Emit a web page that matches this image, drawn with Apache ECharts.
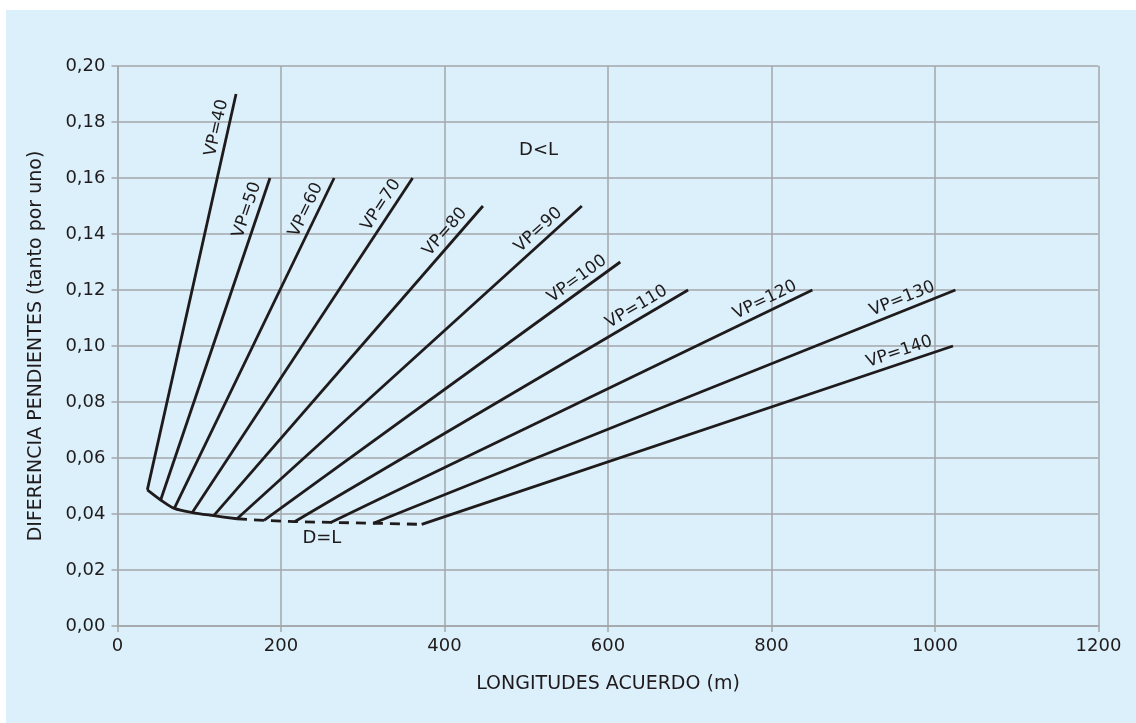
<!DOCTYPE html>
<html><head><meta charset="utf-8">
<script src="https://cdn.jsdelivr.net/npm/echarts@6/dist/echarts.min.js"></script>
<style>html,body{margin:0;padding:0;background:#ffffff}#c{width:1136px;height:723px}</style>
</head><body><div id="c"></div>
<script>
// ---- data ----
const vpNames = ['VP=40','VP=50','VP=60','VP=70','VP=80','VP=90','VP=100','VP=110','VP=120','VP=130','VP=140'];
const lowX  = [36.5, 52.8, 69.5, 91.5, 117.7, 146.2, 179.2, 217.1, 260.8, 312.9, 372.1];
const lowY  = [0.0486, 0.0450, 0.0420, 0.0405, 0.0394, 0.0383, 0.0377, 0.0373, 0.0370, 0.0367, 0.0363];
const highX = [145, 186.5, 265, 361, 447, 568, 615, 698, 850, 1025, 1022];
const highY = [0.19, 0.16, 0.16, 0.16, 0.15, 0.15, 0.13, 0.12, 0.12, 0.12, 0.10];
const labelY = [0.1770, 0.1473, 0.1468, 0.1481, 0.1380, 0.1384, 0.1206, 0.1104, 0.1127, 0.1130, 0.0940];
const solidUntil = 5; // D=L curve is solid up to VP=90, dashed after
const noteText = ['D<L', 'D=L'];
const noteX = [515, 250];
const noteY = [0.170, 0.0314];
const xTitle = 'LONGITUDES ACUERDO (m)';
const yTitle = 'DIFERENCIA PENDIENTES (tanto por uno)';

// ---- chart ----
const FONT = 'DejaVu Sans';
const INK = '#1f1b1c';
const GRIDC = '#a4a7aa';
const chart = echarts.init(document.getElementById('c'), null, {renderer: 'canvas'});

const series = vpNames.map((n, i) => ({
  id: 'vp' + i, type: 'line', name: n, symbol: 'none', silent: true,
  data: [[lowX[i], lowY[i]], [highX[i], highY[i]]],
  lineStyle: {color: INK, width: 2.8}, z: 3
}));
series.push({
  id: 'curveSolid', type: 'line', symbol: 'none', silent: true, smooth: 0.3,
  data: lowX.slice(0, solidUntil + 1).map((x, i) => [x, lowY[i]]),
  lineStyle: {color: INK, width: 2.8}, z: 3
});
series.push({
  id: 'curveDash', type: 'line', symbol: 'none', silent: true,
  data: lowX.slice(solidUntil).map((x, i) => [x, lowY[i + solidUntil]]),
  lineStyle: {color: INK, width: 2.8, type: [10, 7]}, z: 3
});
series.push({
  id: 'notes', type: 'scatter', silent: true, symbolSize: 1,
  itemStyle: {color: 'rgba(0,0,0,0)', opacity: 1},
  data: noteX.map((x, i) => [x, noteY[i]]),
  label: {show: true, position: 'inside', color: INK, fontFamily: FONT, fontSize: 18,
          textBorderWidth: 0, formatter: p => noteText[p.dataIndex]}
});

const option = {
  animation: false,
  backgroundColor: '#ffffff',
  graphic: [{type: 'rect', z: -10, silent: true, shape: {x: 6, y: 10, width: 1130, height: 713},
             style: {fill: '#dcf0fb'}}],
  grid: {left: 117.5, right: 37.5, top: 66, bottom: 97, containLabel: false},
  xAxis: {
    type: 'value', min: 0, max: 1200, interval: 200,
    name: xTitle, nameLocation: 'middle', nameGap: 49,
    nameTextStyle: {color: INK, fontFamily: FONT, fontSize: 19},
    axisLine: {show: true, lineStyle: {color: GRIDC, width: 1.5}},
    axisTick: {show: true, length: 6, lineStyle: {color: GRIDC, width: 1.5}},
    axisLabel: {color: INK, fontFamily: FONT, fontSize: 18, margin: 11,
                formatter: v => String(v)},
    splitLine: {show: true, lineStyle: {color: GRIDC, width: 1.5}}
  },
  yAxis: {
    type: 'value', min: 0, max: 0.2, interval: 0.02,
    name: yTitle, nameLocation: 'middle', nameGap: 72,
    nameTextStyle: {color: INK, fontFamily: FONT, fontSize: 19},
    axisLine: {show: true, lineStyle: {color: GRIDC, width: 1.5}},
    axisTick: {show: true, length: 6, lineStyle: {color: GRIDC, width: 1.5}},
    axisLabel: {color: INK, fontFamily: FONT, fontSize: 18, margin: 12,
                formatter: v => v.toFixed(2).replace('.', ',')},
    splitLine: {show: true, lineStyle: {color: GRIDC, width: 1.5}}
  },
  series: series
};
chart.setOption(option);

// VP labels placed along each line using the chart's own scales
const labelData = vpNames.map((n, i) => {
  const p0 = chart.convertToPixel({gridIndex: 0}, [lowX[i], lowY[i]]);
  const p1 = chart.convertToPixel({gridIndex: 0}, [highX[i], highY[i]]);
  const ang = Math.atan2(p0[1] - p1[1], p1[0] - p0[0]);
  const t = (labelY[i] - lowY[i]) / (highY[i] - lowY[i]);
  const ax = p0[0] + t * (p1[0] - p0[0]);
  const ay = p0[1] + t * (p1[1] - p0[1]);
  const d = 11.5;
  const v = chart.convertFromPixel({gridIndex: 0}, [ax - d * Math.sin(ang), ay - d * Math.cos(ang)]);
  return {value: v, label: {rotate: ang * 180 / Math.PI}};
});
chart.setOption({series: [{
  id: 'vplabels', type: 'scatter', silent: true, symbolSize: 1,
  itemStyle: {color: 'rgba(0,0,0,0)', opacity: 1},
  data: labelData,
  label: {show: true, position: 'inside', color: INK, fontFamily: FONT, fontSize: 17,
          textBorderWidth: 0, formatter: p => vpNames[p.dataIndex]}
}]});
</script>
</body></html>
